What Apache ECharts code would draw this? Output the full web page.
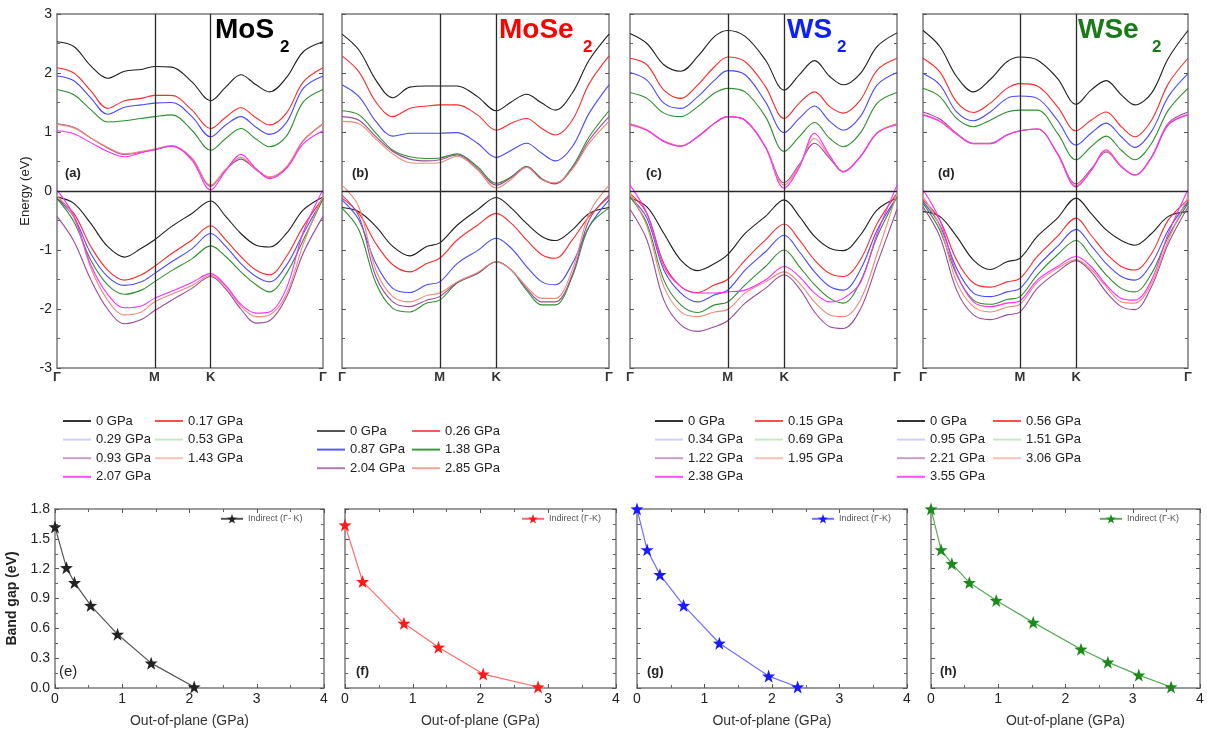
<!DOCTYPE html>
<html><head><meta charset="utf-8">
<script src="https://cdn.jsdelivr.net/npm/echarts@6/dist/echarts.min.js"></script>
<style>html,body{margin:0;padding:0;background:#fff}#c{width:1207px;height:740px}</style>
</head><body><div id="c"></div>
<script>
// ---------- DATA ----------
// k-path positions (Γ-M-K-Γ, proportional path length)
const kPath = [0, 0.1, 0.2, 0.3, 0.4, 0.5, 0.577, 0.68, 0.8, 0.911, 1.0, 1.09, 1.18, 1.26, 1.36, 1.46, 1.577];
const kTicks = [0, 0.577, 0.911, 1.577];
const kTickLabels = ['Γ', 'M', 'K', 'Γ'];

const mos2P = ['0 GPa', '0.17 GPa', '0.29 GPa', '0.53 GPa', '0.93 GPa', '1.43 GPa', '2.07 GPa'];
const mos2CB = [
  [2.53, 2.45, 2.12, 1.91, 2.03, 2.06, 2.11, 2.10, 1.85, 1.53, 1.76, 1.97, 1.80, 1.68, 1.92, 2.36, 2.53],
  [2.09, 2.00, 1.70, 1.40, 1.53, 1.57, 1.62, 1.62, 1.37, 1.06, 1.25, 1.41, 1.24, 1.12, 1.32, 1.85, 2.09],
  [1.95, 1.87, 1.58, 1.30, 1.42, 1.46, 1.49, 1.50, 1.26, 0.92, 1.12, 1.26, 1.08, 0.96, 1.16, 1.74, 1.95],
  [1.72, 1.63, 1.38, 1.17, 1.19, 1.23, 1.26, 1.29, 1.03, 0.69, 0.89, 1.06, 0.88, 0.75, 0.93, 1.51, 1.72],
  [1.14, 1.08, 0.90, 0.73, 0.62, 0.66, 0.70, 0.76, 0.55, 0.08, 0.36, 0.54, 0.36, 0.23, 0.40, 0.85, 1.14],
  [1.13, 1.07, 0.90, 0.74, 0.63, 0.67, 0.71, 0.77, 0.56, 0.10, 0.37, 0.57, 0.37, 0.24, 0.41, 0.86, 1.13],
  [1.02, 0.97, 0.82, 0.67, 0.58, 0.65, 0.70, 0.76, 0.52, 0.02, 0.34, 0.62, 0.38, 0.21, 0.38, 0.80, 1.02]
];
const mos2VB = [
  [-0.10, -0.21, -0.55, -0.94, -1.12, -0.97, -0.83, -0.60, -0.38, -0.17, -0.43, -0.72, -0.92, -0.95, -0.72, -0.32, -0.10],
  [-0.12, -0.38, -0.94, -1.34, -1.51, -1.42, -1.28, -1.06, -0.83, -0.59, -0.83, -1.11, -1.34, -1.42, -1.11, -0.60, -0.12],
  [-0.13, -0.44, -1.06, -1.45, -1.60, -1.54, -1.40, -1.20, -0.98, -0.72, -0.94, -1.23, -1.45, -1.54, -1.26, -0.72, -0.13],
  [-0.13, -0.52, -1.17, -1.59, -1.75, -1.68, -1.54, -1.35, -1.15, -0.93, -1.11, -1.37, -1.59, -1.71, -1.40, -0.83, -0.13],
  [-0.43, -0.85, -1.50, -2.00, -2.25, -2.18, -2.03, -1.85, -1.65, -1.45, -1.66, -2.00, -2.24, -2.20, -1.80, -1.05, -0.43],
  [-0.08, -0.45, -1.30, -1.85, -2.10, -2.05, -1.88, -1.75, -1.60, -1.43, -1.62, -1.95, -2.13, -2.10, -1.75, -0.90, -0.08],
  [0.02, -0.42, -1.25, -1.75, -1.98, -1.95, -1.82, -1.70, -1.55, -1.40, -1.60, -1.92, -2.07, -2.05, -1.65, -0.70, 0.02]
];

const mose2P = ['0 GPa', '0.26 GPa', '0.87 GPa', '1.38 GPa', '2.04 GPa', '2.85 GPa'];
const mose2CB = [
  [2.66, 2.39, 1.88, 1.58, 1.76, 1.78, 1.78, 1.78, 1.60, 1.36, 1.51, 1.64, 1.49, 1.37, 1.66, 2.22, 2.66],
  [2.29, 2.02, 1.51, 1.26, 1.40, 1.44, 1.46, 1.46, 1.29, 1.03, 1.15, 1.23, 1.06, 0.95, 1.20, 1.82, 2.29],
  [1.80, 1.60, 1.18, 0.93, 0.98, 0.98, 0.98, 0.99, 0.81, 0.57, 0.69, 0.81, 0.64, 0.51, 0.75, 1.32, 1.80],
  [1.36, 1.29, 0.98, 0.69, 0.58, 0.55, 0.56, 0.63, 0.41, 0.13, 0.24, 0.42, 0.21, 0.13, 0.41, 0.92, 1.36],
  [1.26, 1.20, 0.92, 0.67, 0.54, 0.51, 0.53, 0.61, 0.38, 0.10, 0.23, 0.41, 0.20, 0.12, 0.38, 0.86, 1.26],
  [1.18, 1.14, 0.88, 0.63, 0.48, 0.47, 0.48, 0.59, 0.36, 0.05, 0.20, 0.40, 0.19, 0.14, 0.37, 0.81, 1.18]
];
const mose2VB = [
  [-0.28, -0.35, -0.60, -0.94, -1.10, -0.94, -0.88, -0.58, -0.32, -0.11, -0.29, -0.55, -0.77, -0.84, -0.66, -0.38, -0.28],
  [-0.12, -0.38, -0.89, -1.25, -1.37, -1.23, -1.14, -0.83, -0.58, -0.38, -0.55, -0.83, -1.08, -1.14, -0.83, -0.43, -0.10],
  [-0.15, -0.49, -1.23, -1.65, -1.72, -1.59, -1.54, -1.23, -1.01, -0.80, -0.97, -1.28, -1.54, -1.59, -1.23, -0.60, -0.15],
  [-0.29, -0.66, -1.56, -1.99, -2.05, -1.90, -1.85, -1.56, -1.40, -1.20, -1.34, -1.68, -1.93, -1.93, -1.45, -0.60, -0.29],
  [-0.07, -0.43, -1.45, -1.88, -1.96, -1.85, -1.79, -1.55, -1.40, -1.20, -1.34, -1.65, -1.88, -1.88, -1.42, -0.49, -0.07],
  [0.10, -0.27, -1.34, -1.79, -1.88, -1.77, -1.73, -1.54, -1.38, -1.20, -1.34, -1.62, -1.82, -1.82, -1.34, -0.38, 0.10]
];

const ws2P = ['0 GPa', '0.15 GPa', '0.34 GPa', '0.69 GPa', '1.22 GPa', '1.95 GPa', '2.38 GPa'];
const ws2CB = [
  [2.67, 2.50, 2.14, 2.03, 2.28, 2.62, 2.72, 2.62, 2.22, 1.71, 1.97, 2.21, 1.94, 1.80, 1.99, 2.45, 2.68],
  [2.25, 2.14, 1.71, 1.57, 1.80, 2.11, 2.27, 2.19, 1.77, 1.23, 1.49, 1.68, 1.43, 1.32, 1.54, 2.05, 2.25],
  [2.01, 1.88, 1.49, 1.40, 1.60, 1.88, 2.04, 1.97, 1.51, 0.99, 1.23, 1.44, 1.18, 1.03, 1.26, 1.80, 2.01],
  [1.67, 1.57, 1.32, 1.26, 1.43, 1.66, 1.74, 1.68, 1.26, 0.67, 0.92, 1.16, 0.89, 0.75, 0.98, 1.49, 1.67],
  [1.14, 1.03, 0.84, 0.76, 0.92, 1.15, 1.26, 1.20, 0.75, 0.14, 0.45, 0.81, 0.55, 0.33, 0.58, 0.98, 1.14],
  [1.14, 1.04, 0.85, 0.77, 0.92, 1.15, 1.26, 1.20, 0.75, 0.10, 0.43, 0.89, 0.58, 0.33, 0.58, 0.98, 1.14],
  [1.12, 1.03, 0.84, 0.76, 0.92, 1.15, 1.26, 1.20, 0.74, 0.05, 0.40, 0.98, 0.60, 0.32, 0.58, 0.99, 1.12]
];
const ws2VB = [
  [-0.12, -0.27, -0.72, -1.17, -1.35, -1.23, -1.08, -0.72, -0.43, -0.15, -0.43, -0.77, -0.97, -1.01, -0.75, -0.32, -0.12],
  [-0.04, -0.38, -1.23, -1.62, -1.72, -1.59, -1.50, -1.17, -0.83, -0.56, -0.83, -1.17, -1.40, -1.45, -1.17, -0.55, -0.04],
  [-0.10, -0.46, -1.34, -1.73, -1.88, -1.76, -1.68, -1.34, -1.03, -0.75, -1.03, -1.37, -1.62, -1.68, -1.34, -0.66, -0.10],
  [-0.10, -0.55, -1.51, -1.93, -2.06, -1.93, -1.88, -1.59, -1.28, -1.00, -1.28, -1.59, -1.82, -1.90, -1.54, -0.77, -0.10],
  [-0.31, -0.83, -1.85, -2.27, -2.38, -2.30, -2.20, -1.90, -1.65, -1.42, -1.65, -2.05, -2.30, -2.33, -2.01, -1.23, -0.31],
  [-0.04, -0.60, -1.62, -2.05, -2.13, -2.05, -2.01, -1.73, -1.54, -1.37, -1.56, -1.88, -2.10, -2.13, -1.85, -1.06, -0.04],
  [0.10, -0.38, -1.28, -1.62, -1.73, -1.73, -1.71, -1.68, -1.51, -1.28, -1.45, -1.73, -1.88, -1.82, -1.56, -0.72, 0.10]
];

const wse2P = ['0 GPa', '0.56 GPa', '0.95 GPa', '1.51 GPa', '2.21 GPa', '3.06 GPa', '3.55 GPa'];
const wse2CB = [
  [2.72, 2.45, 1.94, 1.68, 1.89, 2.19, 2.27, 2.22, 1.91, 1.47, 1.71, 1.87, 1.63, 1.46, 1.66, 2.25, 2.72],
  [2.25, 2.02, 1.51, 1.33, 1.49, 1.74, 1.82, 1.78, 1.43, 1.02, 1.20, 1.34, 1.09, 0.92, 1.20, 1.82, 2.25],
  [1.99, 1.80, 1.34, 1.19, 1.34, 1.57, 1.61, 1.57, 1.20, 0.78, 0.98, 1.15, 0.92, 0.74, 1.01, 1.60, 1.99],
  [1.74, 1.60, 1.23, 1.09, 1.20, 1.34, 1.37, 1.37, 0.98, 0.53, 0.75, 0.93, 0.69, 0.53, 0.81, 1.37, 1.74],
  [1.34, 1.22, 0.98, 0.81, 0.81, 0.95, 1.02, 1.05, 0.64, 0.12, 0.37, 0.66, 0.41, 0.27, 0.58, 1.15, 1.34],
  [1.30, 1.19, 0.97, 0.80, 0.80, 0.95, 1.02, 1.05, 0.63, 0.09, 0.35, 0.68, 0.41, 0.27, 0.57, 1.13, 1.30],
  [1.29, 1.18, 0.96, 0.80, 0.80, 0.95, 1.02, 1.05, 0.63, 0.07, 0.34, 0.70, 0.42, 0.27, 0.57, 1.12, 1.29]
];
const wse2VB = [
  [-0.35, -0.43, -0.77, -1.17, -1.33, -1.20, -1.14, -0.77, -0.46, -0.12, -0.38, -0.66, -0.84, -0.92, -0.72, -0.43, -0.35],
  [-0.15, -0.49, -1.17, -1.56, -1.63, -1.54, -1.48, -1.11, -0.77, -0.46, -0.75, -1.06, -1.28, -1.34, -1.06, -0.49, -0.15],
  [-0.18, -0.58, -1.31, -1.73, -1.79, -1.71, -1.65, -1.28, -0.94, -0.65, -0.92, -1.23, -1.45, -1.51, -1.23, -0.66, -0.18],
  [-0.21, -0.66, -1.42, -1.85, -1.92, -1.84, -1.79, -1.42, -1.08, -0.84, -1.11, -1.42, -1.65, -1.71, -1.40, -0.77, -0.21],
  [-0.27, -0.77, -1.68, -2.10, -2.18, -2.10, -2.05, -1.65, -1.37, -1.18, -1.37, -1.71, -1.96, -2.01, -1.62, -0.89, -0.27],
  [-0.10, -0.60, -1.54, -1.96, -2.05, -1.97, -1.92, -1.55, -1.31, -1.16, -1.33, -1.62, -1.88, -1.90, -1.56, -0.83, -0.10],
  [0.02, -0.49, -1.40, -1.88, -1.96, -1.90, -1.86, -1.51, -1.28, -1.11, -1.28, -1.59, -1.82, -1.85, -1.51, -0.72, 0.02]
];

// band gap vs out-of-plane pressure
const mos2GapP = [0, 0.17, 0.29, 0.53, 0.93, 1.43, 2.07];
const mos2Gap = [1.62, 1.21, 1.06, 0.83, 0.54, 0.25, 0.01];
const mose2GapP = [0, 0.26, 0.87, 1.38, 2.04, 2.85];
const mose2Gap = [1.64, 1.07, 0.65, 0.41, 0.14, 0.01];
const ws2GapP = [0, 0.15, 0.34, 0.69, 1.22, 1.95, 2.38];
const ws2Gap = [1.80, 1.39, 1.14, 0.83, 0.45, 0.12, 0.01];
const wse2GapP = [0, 0.15, 0.31, 0.57, 0.97, 1.52, 2.23, 2.63, 3.09, 3.57];
const wse2Gap = [1.80, 1.39, 1.25, 1.06, 0.88, 0.66, 0.39, 0.26, 0.13, 0.01];

const gapNames = ['Indirect (Γ- K)', 'Indirect (Γ-K)', 'Indirect (Γ-K) ', 'Indirect (Γ-K)  '];
const materialMain = ['MoS', 'MoSe', 'WS', 'WSe'];
const panelLetters = ['(a)', '(b)', '(c)', '(d)', '(e)', '(f)', '(g)', '(h)'];
const energyTicks = [-3, 3, 1];      // min, max, interval
const gapAxisY = [0, 1.8, 0.3];
const gapAxisX = [0, 4, 1];

// ---------- STYLE / LAYOUT ----------
const FONT = '"Liberation Sans", Arial, sans-serif';
const bandColors = ['#1e1e1e', '#ff2b2b', '#4a4aff', '#2f8f2f', '#9a4c9a', '#f08a78', '#ff2cff'];
const legendColorsLight = ['#333333', '#ff4d4d', '#cfcfff', '#c8e6c8', '#c49ec4', '#f6c2b6', '#ff4dff'];
const legendColorsB = ['#555555', '#ff5a5a', '#5a5aff', '#3d9a3d', '#b078b4', '#f0a494'];
const matColors = ['#000000', '#ff0000', '#0b1fff', '#1a7a1a'];
const gapColors = ['#222222', '#ff1a1a', '#1a1aff', '#1a8a1a'];
const gapLineColors = ['#555555', '#ff6a6a', '#7070ff', '#5aaa5a'];

const topGrids = [
  {left: 57, top: 14, width: 266, height: 354},
  {left: 342, top: 14, width: 267, height: 354},
  {left: 630, top: 14, width: 267, height: 354},
  {left: 923, top: 14, width: 265, height: 354}
];
const botGrids = [
  {left: 55, top: 509, width: 269, height: 179},
  {left: 345, top: 509, width: 271, height: 179},
  {left: 637, top: 509, width: 270, height: 179},
  {left: 931, top: 509, width: 269, height: 179}
];
const legendPos = [
  {c1: 63, c2: 155, top: 413},
  {c1: 317, c2: 412, top: 423},
  {c1: 655, c2: 755, top: 413},
  {c1: 897, c2: 993, top: 413}
];
const gapLegendLeft = [220, 521, 811, 1099];
const titlePos = [[215, 280], [499, 583], [787, 837], [1078, 1152]];
const letterPos = [[65, 167], [352, 167], [646, 167], [938, 167], [59, 664], [356, 665], [647, 665], [940, 665]];

const STAR = 'path://M0,-10 L2.35,-3.24 L9.51,-3.09 L3.8,1.24 L5.88,8.09 L0,4 L-5.88,8.09 L-3.8,1.24 L-9.51,-3.09 L-2.35,-3.24 Z';

const panels = [
  {P: mos2P, CB: mos2CB, VB: mos2VB, gx: mos2GapP, gy: mos2Gap},
  {P: mose2P, CB: mose2CB, VB: mose2VB, gx: mose2GapP, gy: mose2Gap},
  {P: ws2P, CB: ws2CB, VB: ws2VB, gx: ws2GapP, gy: ws2Gap},
  {P: wse2P, CB: wse2CB, VB: wse2VB, gx: wse2GapP, gy: wse2Gap}
];

function kLabel(v) {
  const val = (v && typeof v === 'object') ? v.value : v;
  for (let k = 0; k < kTicks.length; k++) {
    if (Math.abs(kTicks[k] - val) < 1e-4) return kTickLabels[k];
  }
  return '';
}

const axisLineStyle = {onZero: false, lineStyle: {color: '#7a7a7a', width: 1.5}};
const tickStyle = {inside: true, length: 4, lineStyle: {color: '#555', width: 1}};
const minorStyle = {show: true, splitNumber: 2, length: 3, lineStyle: {color: '#666', width: 1}};
const grid = [], xAxis = [], yAxis = [], series = [], legend = [], title = [];

// top grids
topGrids.forEach((g, i) => {
  grid.push(g);
  const gi = grid.length - 1;
  xAxis.push({gridIndex: gi, type: 'value', min: kTicks[0], max: kTicks[3], position: 'bottom',
    axisLine: axisLineStyle,
    axisTick: {show: false, customValues: kTicks},
    splitLine: {show: false},
    axisLabel: {show: true, customValues: kTicks, formatter: kLabel, hideOverlap: false,
      showMinLabel: true, showMaxLabel: true,
      fontSize: 13, fontWeight: 'bold', color: '#333', fontFamily: FONT, margin: 3}});
  xAxis.push({gridIndex: gi, type: 'value', min: kTicks[0], max: kTicks[3], position: 'top',
    axisLine: axisLineStyle, axisTick: {show: false}, axisLabel: {show: false}, splitLine: {show: false}});
  yAxis.push({gridIndex: gi, type: 'value', min: energyTicks[0], max: energyTicks[1], interval: energyTicks[2], position: 'left',
    axisLine: axisLineStyle, axisTick: tickStyle, minorTick: minorStyle,
    splitLine: {show: false},
    axisLabel: {show: i === 0, fontSize: 14, color: '#222', fontFamily: FONT, margin: 5},
    name: i === 0 ? 'Energy (eV)' : '', nameLocation: 'middle', nameGap: 25,
    nameTextStyle: {fontSize: 13, color: '#222', fontFamily: FONT}});
  yAxis.push({gridIndex: gi, type: 'value', min: energyTicks[0], max: energyTicks[1], interval: energyTicks[2], position: 'right',
    axisLine: axisLineStyle, axisTick: tickStyle, minorTick: minorStyle,
    splitLine: {show: false}, axisLabel: {show: false}});
  const p = panels[i];
  p.P.forEach((name, j) => {
    ['CB', 'VB'].forEach((band, b) => {
      const s = {
        type: 'line', name: name, xAxisIndex: 2 * gi, yAxisIndex: 2 * gi,
        data: kPath.map((x, k) => [x, p[band][j][k]]),
        smooth: 0.35, showSymbol: false, symbol: 'none',
        lineStyle: {width: 1.1, color: bandColors[j]}, itemStyle: {color: bandColors[j]},
        z: 3
      };
      if (j === 0 && b === 0) {
        s.markLine = {silent: true, symbol: 'none', label: {show: false},
          lineStyle: {color: '#2a2a2a', width: 1.3, type: 'solid'},
          data: [{xAxis: kTicks[1]}, {xAxis: kTicks[2]}, {yAxis: 0}]};
      }
      series.push(s);
    });
  });
  // legends (two columns)
  const lc = i === 1 ? legendColorsB : legendColorsLight;
  [0, 1].forEach(c => {
    legend.push({
      orient: 'vertical', left: c === 0 ? legendPos[i].c1 : legendPos[i].c2, top: legendPos[i].top,
      padding: 0, icon: 'rect', itemWidth: 28, itemHeight: 2, itemGap: 2.6,
      selectedMode: false,
      textStyle: {fontSize: 13, color: '#222', fontFamily: FONT, lineHeight: 16},
      data: p.P.map((n, k) => ({name: n, itemStyle: {color: lc[k]}})).filter((_, k) => k % 2 === c)
    });
  });
  // material title
  title.push({text: materialMain[i], left: titlePos[i][0], top: 16, padding: 0,
    textStyle: {fontSize: 28, fontWeight: 'bold', color: matColors[i], fontFamily: FONT}});
  title.push({text: '2', left: titlePos[i][1], top: 39, padding: 0,
    textStyle: {fontSize: 17, fontWeight: 'bold', color: matColors[i], fontFamily: FONT}});
});

// bottom grids
botGrids.forEach((g, i) => {
  grid.push(g);
  const gi = grid.length - 1;
  xAxis.push({gridIndex: gi, type: 'value', min: gapAxisX[0], max: gapAxisX[1], interval: gapAxisX[2], position: 'bottom',
    axisLine: axisLineStyle, axisTick: tickStyle, minorTick: minorStyle,
    splitLine: {show: false},
    axisLabel: {fontSize: 14, color: '#222', fontFamily: FONT, margin: 4},
    name: 'Out-of-plane (GPa)', nameLocation: 'middle', nameGap: 26,
    nameTextStyle: {fontSize: 14, color: '#333', fontFamily: FONT}});
  xAxis.push({gridIndex: gi, type: 'value', min: gapAxisX[0], max: gapAxisX[1], interval: gapAxisX[2], position: 'top',
    axisLine: axisLineStyle, axisTick: tickStyle, minorTick: minorStyle,
    splitLine: {show: false}, axisLabel: {show: false}});
  yAxis.push({gridIndex: gi, type: 'value', min: gapAxisY[0], max: gapAxisY[1], interval: gapAxisY[2], position: 'left',
    axisLine: axisLineStyle, axisTick: tickStyle, minorTick: minorStyle,
    splitLine: {show: false},
    axisLabel: {show: i === 0, fontSize: 14, color: '#222', fontFamily: FONT, margin: 5, formatter: v => v.toFixed(1)},
    name: i === 0 ? 'Band gap (eV)' : '', nameLocation: 'middle', nameGap: 36,
    nameTextStyle: {fontSize: 14, fontWeight: 'bold', color: '#222', fontFamily: FONT}});
  yAxis.push({gridIndex: gi, type: 'value', min: gapAxisY[0], max: gapAxisY[1], interval: gapAxisY[2], position: 'right',
    axisLine: axisLineStyle, axisTick: tickStyle, minorTick: minorStyle,
    splitLine: {show: false}, axisLabel: {show: false}});
  const p = panels[i];
  series.push({
    type: 'line', name: gapNames[i], xAxisIndex: 2 * gi, yAxisIndex: 2 * gi,
    data: p.gx.map((x, k) => [x, p.gy[k]]),
    symbol: STAR, symbolSize: 13, showSymbol: true,
    lineStyle: {width: 1.2, color: gapLineColors[i]},
    itemStyle: {color: gapColors[i]}, z: 4
  });
  legend.push({
    left: gapLegendLeft[i], top: 514, padding: 0, itemWidth: 22, itemHeight: 12, selectedMode: false,
    textStyle: {fontSize: 9, color: '#555', fontFamily: FONT},
    formatter: n => n.trim(),
    data: [gapNames[i]]
  });
});

letterPos.forEach((pos, i) => {
  title.push({text: panelLetters[i], left: pos[0], top: pos[1], padding: 0,
    textStyle: {fontSize: i === 4 ? 15 : 13, fontWeight: i === 4 ? 'normal' : 'bold', color: '#222', fontFamily: FONT}});
});

const chart = echarts.init(document.getElementById('c'), null, {renderer: 'canvas'});
chart.setOption({
  backgroundColor: '#ffffff',
  animation: false,
  title, grid, xAxis, yAxis, series, legend
});
</script></body></html>
